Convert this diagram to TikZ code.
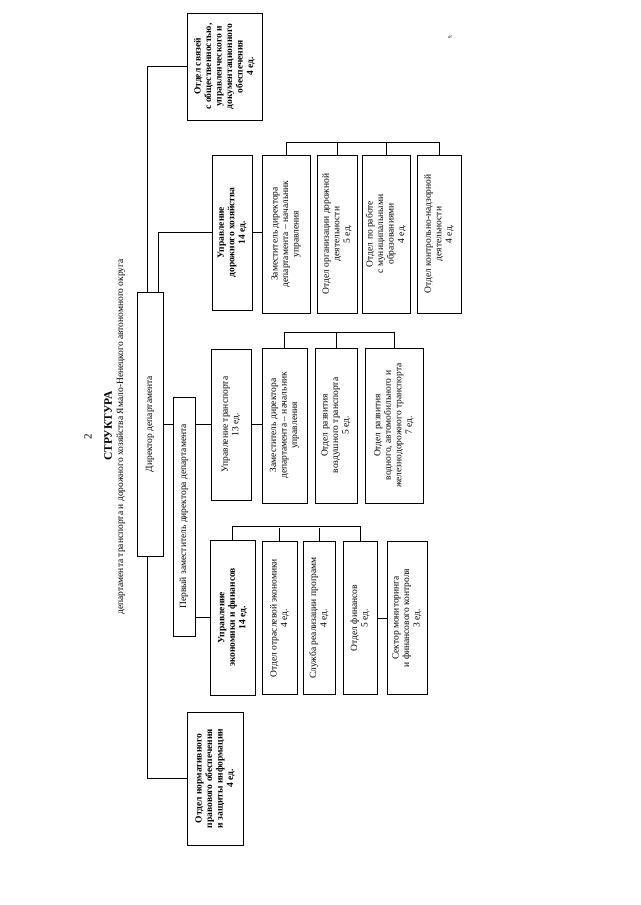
\documentclass[tikz,border=0pt]{standalone}
\usepackage{fontspec}
\setmainfont{Liberation Serif}
\begin{document}
\begin{tikzpicture}[x=1pt,y=-1pt,
    unit/.style={draw, rotate=90, align=center, inner sep=1pt,
      font=\fontsize{9.5}{10.5}\selectfont, line width=0.6pt},
    head/.style={unit, font=\bfseries\fontsize{9.5}{10.5}\selectfont, line width=0.9pt},
    link/.style={line width=0.6pt}]
  \useasboundingbox (0,0) rectangle (640,905);

  % Heading of the page.
  \node[rotate=90, font=\fontsize{11}{12}\selectfont] (pagenum) at (88,437) {2};
  \node[rotate=90, font=\bfseries\fontsize{11.5}{13}\selectfont] (title) at (108,426) {СТРУКТУРА};
  \node[rotate=90, font=\fontsize{9.5}{10.5}\selectfont] (subtitle) at (121,437)
    {департамента транспорта и дорожного хозяйства Ямало-Ненецкого автономного округа};
  \node[rotate=90, font=\fontsize{5}{6}\selectfont] (mark) at (450,37) {9.};

  % Director and first deputy.
  \node[unit, minimum width=264pt, minimum height=26pt] (director) at (150,424) {Директор департамента};
  \node[unit, minimum width=239pt, minimum height=22pt] (deputy) at (184,516.5)
    {Первый заместитель директора департамента};

  % Units directly under the director.
  \node[head, minimum width=107pt, minimum height=75pt] (svyaz) at (224.5,66.5)
    {Отдел связей\\с общественностью,\\управленческого и\\документационного\\обеспечения\\4 ед.};
  \node[head, minimum width=133pt, minimum height=56pt] (norm) at (215,778.5)
    {Отдел нормативного\\правового обеспечения\\и защиты информации\\4 ед.};

  % Road management.
  \node[head, minimum width=155pt, minimum height=40pt] (road) at (232,232.5)
    {Управление\\дорожного хозяйства\\14 ед.};
  \node[unit, minimum width=158pt, minimum height=48pt] (rzam) at (286,234)
    {Заместитель директора\\департамента -- начальник\\управления};
  \node[unit, minimum width=158pt, minimum height=40pt] (rorg) at (337,234)
    {Отдел организации дорожной\\деятельности\\5 ед.};
  \node[unit, minimum width=158pt, minimum height=48pt] (rmun) at (386,234)
    {Отдел по работе\\с муниципальными\\образованиями\\4 ед.};
  \node[unit, minimum width=158pt, minimum height=44pt] (rctl) at (439,234)
    {Отдел контрольно-надзорной\\деятельности\\4 ед.};

  % Transport management.
  \node[unit, minimum width=151pt, minimum height=40pt] (trans) at (231,424.5)
    {Управление транспорта\\13 ед.};
  \node[unit, minimum width=155pt, minimum height=45pt] (tzam) at (284.5,425.5)
    {Заместитель директора\\департамента -- начальник\\управления};
  \node[unit, minimum width=155pt, minimum height=42pt] (tair) at (336,425.5)
    {Отдел развития\\воздушного транспорта\\5 ед.};
  \node[unit, minimum width=155pt, minimum height=58pt] (twat) at (394,425.5)
    {Отдел развития\\водного, автомобильного и\\железнодорожного транспорта\\7 ед.};

  % Economics and finance management.
  \node[head, minimum width=155pt, minimum height=45pt] (econ) at (232.5,617.5)
    {Управление\\экономики и финансов\\14 ед.};
  \node[unit, minimum width=153pt, minimum height=35pt] (eotr) at (279.5,618)
    {Отдел отраслевой экономики\\4 ед.};
  \node[unit, minimum width=153pt, minimum height=32pt] (eprog) at (319,618)
    {Служба реализации программ\\4 ед.};
  \node[unit, minimum width=153pt, minimum height=34pt] (efin) at (360,618)
    {Отдел финансов\\5 ед.};
  \node[unit, minimum width=153pt, minimum height=40pt] (emon) at (407,618)
    {Сектор мониторинга\\и финансового контроля\\3 ед.};

  % Connectors.
  \draw[link] ([xshift=-3pt]director.east) |- (svyaz.north);
  \draw[link] ([xshift=8pt]director.east) |- (road.north);
  \draw[link] ([xshift=-3pt]director.west) |- (norm.north);
  \draw[link] (director.south |- trans.north) -- (deputy.north |- trans.north);
  \draw[link] (deputy.south |- trans.north) -- (trans.north);
  \draw[link] (deputy.south |- econ.north) -- (econ.north);

  \draw[link] (road.south) -- (road.south -| rzam.north);
  \draw[link] (rzam.east) -- ++(0,-12) -| (rctl.east);
  \foreach \u in {rorg,rmun}
    \draw[link] (\u.east) -- ++(0,-12);

  \draw[link] (trans.south) -- (trans.south -| tzam.north);
  \draw[link] (tzam.east) -- ++(0,-15) -| (twat.east);
  \draw[link] (tair.east) -- ++(0,-15);

  \draw[link] (econ.east) -- ++(0,-13) -| (efin.east);
  \foreach \u in {eotr,eprog}
    \draw[link] (\u.east) -- ++(0,-13);
  \draw[link] (efin.south) -- (emon.north);
\end{tikzpicture}
\end{document}
